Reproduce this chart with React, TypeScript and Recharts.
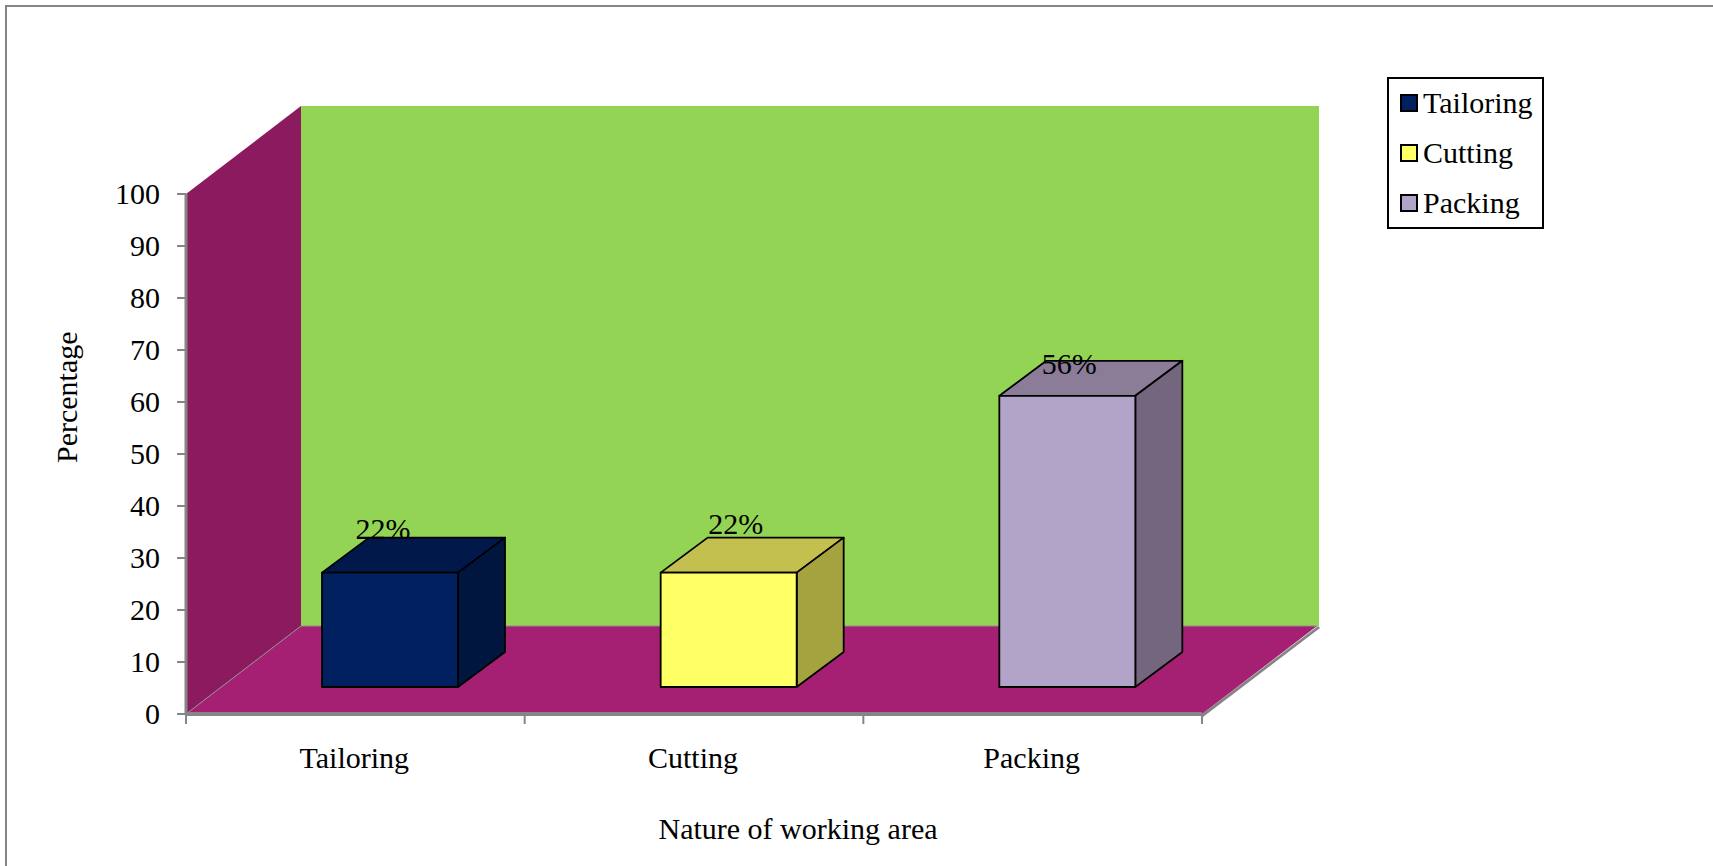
import React from 'react';
import { BarChart, Bar, XAxis, YAxis, Legend, LabelList, Label } from 'recharts';

const categories = ['Tailoring', 'Cutting', 'Packing'];
const shares = [22, 22, 56];
const yTicks = [0, 10, 20, 30, 40, 50, 60, 70, 80, 90, 100];

const rows = categories.map((name, i) => ({ name, [name]: shares[i] }));

const faceColors = ['#002060', '#FFFF66', '#B2A3C8'];
const topColors = ['#00184A', '#C4C04F', '#8B7C98'];
const sideColors = ['#00163E', '#A5A340', '#75667F'];
// hand-placed percentage labels, relative to the top-left of each bar face
const labelOffsets = [
  { dx: 61, dy: -44 },
  { dx: 75, dy: -49 },
  { dx: 70, dy: -32 },
];

const FONT = '"Liberation Serif", serif';
const FONT_SIZE = 30;
const AXIS_GRAY = '#858585';

const PLOT = { left: 186, top: 194, width: 1016, height: 520 };
const FLOOR_DEPTH = { dx: 115, dy: 88 };
const BAR_DEPTH = { dx: 47, dy: 35 };
const BAR_SHIFT = { dx: 35, dy: -27 };
const BAND = PLOT.width / categories.length;

function Walls() {
  const { left, top, width, height } = PLOT;
  const right = left + width;
  const bottom = top + height;
  const { dx, dy } = FLOOR_DEPTH;
  return (
    <g>
      <rect x={left + dx} y={top - dy} width={width + 2} height={height} fill="#94D454" />
      <polygon
        points={`${left},${top} ${left + dx},${top - dy} ${left + dx},${bottom - dy} ${left},${bottom}`}
        fill="#8B1A5E"
      />
      <polygon
        points={`${right + 1},${bottom + 3} ${right + dx + 3},${bottom - dy + 2} ${right + dx + 1},${bottom - dy} ${right},${bottom}`}
        fill={AXIS_GRAY}
      />
      <polygon
        points={`${left},${bottom} ${left + dx},${bottom - dy} ${right + dx},${bottom - dy} ${right},${bottom}`}
        fill="#A52073"
      />
      <polyline
        points={`${left},${bottom} ${left + dx},${bottom - dy} ${right + dx},${bottom - dy}`}
        fill="none"
        stroke="#8F8F8F"
        strokeWidth={1}
      />
    </g>
  );
}

// Box with a front face, a top and a right side, sitting midway across the floor
function Cuboid(props: any) {
  const { x, y, width, height, index } = props;
  if (!height || height <= 0) return null;
  const left = x + BAR_SHIFT.dx;
  const top = y + BAR_SHIFT.dy;
  const right = left + width;
  const bottom = top + height;
  const { dx, dy } = BAR_DEPTH;
  const common = { stroke: '#000', strokeWidth: 1.8, strokeLinejoin: 'round' as const };
  return (
    <g>
      <polygon
        points={`${left},${top} ${left + dx},${top - dy} ${right + dx},${top - dy} ${right},${top}`}
        fill={topColors[index]}
        {...common}
      />
      <polygon
        points={`${right},${top} ${right + dx},${top - dy} ${right + dx},${bottom - dy} ${right},${bottom}`}
        fill={sideColors[index]}
        {...common}
      />
      <rect x={left} y={top} width={width} height={height} fill={faceColors[index]} {...common} />
    </g>
  );
}

function ShareLabel(props: any) {
  const { x, y, value, index } = props;
  if (value === undefined || value === null) return null;
  const off = labelOffsets[index];
  return (
    <text
      x={x + BAR_SHIFT.dx + off.dx}
      y={y + BAR_SHIFT.dy + off.dy}
      textAnchor="middle"
      dominantBaseline="central"
      fontFamily={FONT}
      fontSize={FONT_SIZE}
      fill="#000"
    >
      {value}%
    </text>
  );
}

// Ticks sit on the band edges, labels stay at the band centres
function CategoryTick(props: any) {
  const { x, payload, index } = props;
  const edge = x - BAND / 2;
  const axisY = PLOT.top + PLOT.height;
  return (
    <g>
      <line x1={edge} x2={edge} y1={axisY} y2={axisY + 10} stroke={AXIS_GRAY} strokeWidth={2} />
      {index === categories.length - 1 && (
        <line x1={x + BAND / 2} x2={x + BAND / 2} y1={axisY} y2={axisY + 10} stroke={AXIS_GRAY} strokeWidth={2} />
      )}
      <text x={x - 1} y={axisY + 54} textAnchor="middle" fontFamily={FONT} fontSize={FONT_SIZE} fill="#000">
        {payload.value}
      </text>
    </g>
  );
}

function ValueTick(props: any) {
  const { x, y, payload } = props;
  return (
    <text x={x} y={y} dy={10} textAnchor="end" fontFamily={FONT} fontSize={FONT_SIZE} fill="#000">
      {payload.value}
    </text>
  );
}

function LegendBox() {
  return (
    <div
      style={{
        boxSizing: 'border-box',
        width: 157,
        height: 152,
        border: '2px solid #000',
        background: '#fff',
        fontFamily: FONT,
        fontSize: FONT_SIZE,
        color: '#000',
        position: 'relative',
      }}
    >
      {categories.map((name, i) => (
        <div key={name} style={{ position: 'absolute', left: 11, top: 5 + i * 50, height: 38, display: 'flex', alignItems: 'center', whiteSpace: 'nowrap' }}>
          <span style={{ boxSizing: 'border-box', width: 18, height: 18, border: '2px solid #000', background: faceColors[i], marginRight: 5 }} />
          {name}
        </div>
      ))}
    </div>
  );
}

export default function App() {
  return (
    <div style={{ position: 'absolute', left: 0, top: 0, width: 1713, height: 866, background: '#fff', overflow: 'hidden' }}>
      <div style={{ position: 'absolute', left: 5, top: 5, width: 1712, height: 865, boxSizing: 'border-box', borderTop: `2px solid ${AXIS_GRAY}`, borderLeft: `2px solid ${AXIS_GRAY}` }} />
      <BarChart
        width={1713}
        height={866}
        data={rows}
        barSize={136}
        margin={{ top: PLOT.top, right: 1713 - PLOT.left - PLOT.width, bottom: 52, left: 0 }}
        style={{ position: 'absolute', left: 0, top: 0 }}
      >
        <Walls />
        <XAxis
          dataKey="name"
          height={100}
          interval={0}
          axisLine={{ stroke: AXIS_GRAY, strokeWidth: 4 }}
          tickLine={false}
          tick={<CategoryTick />}
        >
          <Label value="Nature of working area" position="insideBottom" dx={104} dy={30} fontFamily={FONT} fontSize={FONT_SIZE} fill="#000" />
        </XAxis>
        <YAxis
          domain={[0, 100]}
          ticks={yTicks}
          interval={0}
          width={PLOT.left}
          axisLine={{ stroke: AXIS_GRAY, strokeWidth: 3 }}
          tickLine={{ stroke: AXIS_GRAY, strokeWidth: 2 }}
          tickSize={9}
          tickMargin={17}
          tick={<ValueTick />}
        >
          <Label value="Percentage" angle={-90} position="insideLeft" dx={61} dy={9} fontFamily={FONT} fontSize={FONT_SIZE} fill="#000" />
        </YAxis>
        <Legend
          layout="vertical"
          align="center"
          verticalAlign="middle"
          content={<LegendBox />}
          wrapperStyle={{ left: 1387, top: 77, width: 157, height: 152 }}
        />
        {categories.map((name, i) => (
          <Bar key={name} dataKey={name} stackId="share" fill={faceColors[i]} shape={<Cuboid />} isAnimationActive={false}>
            <LabelList dataKey={name} content={<ShareLabel />} />
          </Bar>
        ))}
      </BarChart>
    </div>
  );
}
